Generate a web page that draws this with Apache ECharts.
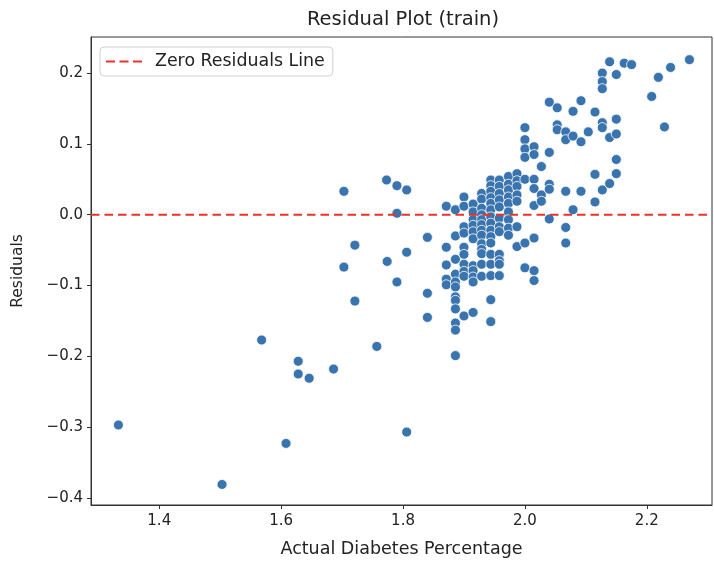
<!DOCTYPE html>
<html><head><meta charset="utf-8">
<script src="https://cdn.jsdelivr.net/npm/echarts@6/dist/echarts.min.js"></script>
<style>html,body{margin:0;padding:0;background:#fff}#c{width:714px;height:563px}</style>
</head><body><div id="c"></div><script>
// Actual diabetes percentage (x) and residual (y), paired by index
const actualPct = [
 1.333,1.503,1.568,1.608,1.628,1.628,1.646,1.686,1.703,1.703,1.721,1.721,1.757,1.773,1.774,1.790,1.790,1.790,1.806,1.806,1.806,
 1.840,1.840,1.840,
 1.871,1.871,1.871,1.871,1.871,
 1.886,1.886,1.886,1.886,1.886,1.886,1.886,1.886,1.886,1.886,1.886,1.886,
 1.900,1.900,1.900,1.900,1.900,1.900,1.900,1.900,1.900,1.900,
 1.915,1.915,1.915,1.915,1.915,1.915,1.915,1.915,1.915,1.915,1.915,
 1.929,1.929,1.929,1.929,1.929,1.929,1.929,1.929,1.929,1.929,1.929,1.929,1.929,
 1.944,1.944,1.944,1.944,1.944,1.944,1.944,1.944,1.944,1.944,1.944,1.944,1.944,1.944,1.944,1.944,
 1.958,1.958,1.958,1.958,1.958,1.958,1.958,1.958,1.958,1.958,1.958,1.958,
 1.973,1.973,1.973,1.973,1.973,1.973,1.973,1.973,1.973,
 1.987,1.987,1.987,1.987,1.987,1.987,1.987,
 2.000,2.000,2.000,2.000,2.000,2.000,2.000,
 2.015,2.015,2.015,2.015,2.015,2.015,2.015,2.015,
 2.027,2.027,2.027,
 2.040,2.040,2.040,2.040,2.040,
 2.053,2.053,2.053,
 2.067,2.067,2.067,2.067,2.067,
 2.079,2.079,2.079,
 2.092,2.092,2.092,
 2.104,
 2.115,2.115,2.115,
 2.127,2.127,2.127,2.127,2.127,2.127,
 2.139,2.139,2.139,
 2.150,2.150,2.150,2.150,2.150,
 2.163,2.175,2.208,2.219,2.229,2.239,2.270
];
const residuals = [
 -0.297,-0.381,-0.177,-0.323,-0.207,-0.225,-0.231,-0.218,0.033,-0.074,-0.043,-0.122,-0.186,0.049,-0.066,0.041,0.002,-0.095,0.035,-0.053,-0.307,
 -0.032,-0.111,-0.145,
 0.012,-0.046,-0.071,-0.091,-0.099,
 0.007,-0.030,-0.063,-0.084,-0.095,-0.102,-0.116,-0.121,-0.133,-0.153,-0.163,-0.199,
 0.025,0.012,-0.017,-0.026,-0.046,-0.056,-0.070,-0.080,-0.087,-0.143,
 0.015,0.004,-0.007,-0.015,-0.024,-0.034,-0.072,-0.079,-0.088,-0.095,-0.138,
 0.030,0.022,0.009,0.000,-0.007,-0.014,-0.022,-0.029,-0.041,-0.049,-0.055,-0.070,-0.087,
 0.049,0.041,0.033,0.024,0.016,0.007,-0.003,-0.012,-0.022,-0.031,-0.040,-0.056,-0.070,-0.086,-0.120,-0.151,
 0.049,0.040,0.030,0.021,0.011,-0.005,-0.017,-0.024,-0.056,-0.065,-0.070,-0.086,
 0.054,0.043,0.035,0.025,0.016,0.004,-0.007,-0.019,-0.029,
 0.058,0.048,0.040,0.028,0.019,-0.017,-0.045,
 0.123,0.106,0.093,0.081,0.050,-0.040,-0.075,
 0.096,0.085,0.050,0.037,0.013,-0.033,-0.079,-0.093,
 0.068,0.028,0.019,
 0.159,0.088,0.043,0.036,-0.006,
 0.151,0.127,0.120,
 0.117,0.106,0.033,-0.018,-0.040,
 0.146,0.111,0.007,
 0.161,0.103,0.033,
 0.117,
 0.145,0.057,0.018,
 0.200,0.188,0.178,0.130,0.123,0.035,
 0.216,0.109,0.044,
 0.198,0.135,0.114,0.078,0.058,
 0.214,0.212,0.167,0.194,0.124,0.208,0.219
];
const xTicks = [1.4, 1.6, 1.8, 2.0, 2.2];
const yTicks = [-0.4, -0.3, -0.2, -0.1, 0.0, 0.1, 0.2];
const xRange = [1.288, 2.307];
const yRange = [-0.410, 0.251];
const zeroLevel = 0;

const FONT = 'DejaVu Sans';
const fmt = v => Number(v).toFixed(1).replace('-', '\u2212');
const chart = echarts.init(document.getElementById('c'), null, {renderer: 'canvas'});
const points = actualPct.map((x, i) => [x, residuals[i]]);
const dashIcon = 'path://M0,0h9v2.2h-9z M13.5,0h9v2.2h-9z M27,0h9v2.2h-9z';

chart.setOption({
  animation: false,
  backgroundColor: '#fff',
  textStyle: {fontFamily: FONT},
  title: {
    text: 'Residual Plot (train)', left: 398, top: 5, textAlign: 'center',
    textStyle: {fontFamily: FONT, fontSize: 19.5, fontWeight: 'normal', color: '#222'}
  },
  grid: {left: 91, right: 2, top: 37, bottom: 58, show: true, borderColor: '#333', borderWidth: 1, backgroundColor: 'transparent'},
  legend: {
    left: 100, top: 47,
    data: [{name: 'Zero Residuals Line', icon: dashIcon}],
    backgroundColor: '#fff', borderColor: '#d0d0d0', borderWidth: 1, borderRadius: 4,
    padding: [6, 8, 6, 6], itemWidth: 36, itemHeight: 2.2, itemGap: 10,
    textStyle: {fontFamily: FONT, fontSize: 17.4, color: '#222', padding: [0, 0, 0, 8]}
  },
  xAxis: {
    type: 'value', min: xRange[0], max: xRange[1],
    name: 'Actual Diabetes Percentage', nameLocation: 'middle', nameGap: 35,
    nameTextStyle: {fontFamily: FONT, fontSize: 17.5, color: '#222'},
    axisLine: {show: true, onZero: false, lineStyle: {color: '#333', width: 1}},
    axisTick: {show: true, inside: false, length: 4, customValues: xTicks, lineStyle: {color: '#333'}},
    axisLabel: {customValues: xTicks, formatter: fmt, fontFamily: FONT, fontSize: 15, color: '#222', margin: 9},
    splitLine: {show: false}
  },
  yAxis: {
    type: 'value', min: yRange[0], max: yRange[1],
    name: 'Residuals', nameLocation: 'middle', nameGap: 65,
    nameTextStyle: {fontFamily: FONT, fontSize: 15.5, color: '#222'},
    axisLine: {show: true, onZero: false, lineStyle: {color: '#333', width: 1}},
    axisTick: {show: true, inside: false, length: 4, customValues: yTicks, lineStyle: {color: '#333'}},
    axisLabel: {customValues: yTicks, formatter: fmt, fontFamily: FONT, fontSize: 15, color: '#222', margin: 8},
    splitLine: {show: false}
  },
  series: [
    {
      type: 'scatter', name: 'points', data: points, symbolSize: 10, z: 2,
      itemStyle: {color: '#3a74ae', borderColor: '#fff', borderWidth: 0.8, opacity: 1}
    },
    {
      type: 'line', name: 'Zero Residuals Line', symbol: 'none', z: 3,
      data: [[xRange[0], zeroLevel], [xRange[1], zeroLevel]],
      lineStyle: {color: '#e8322a', width: 2, type: [8.5, 5]},
      itemStyle: {color: '#e8322a'}
    }
  ]
});
</script></body></html>
